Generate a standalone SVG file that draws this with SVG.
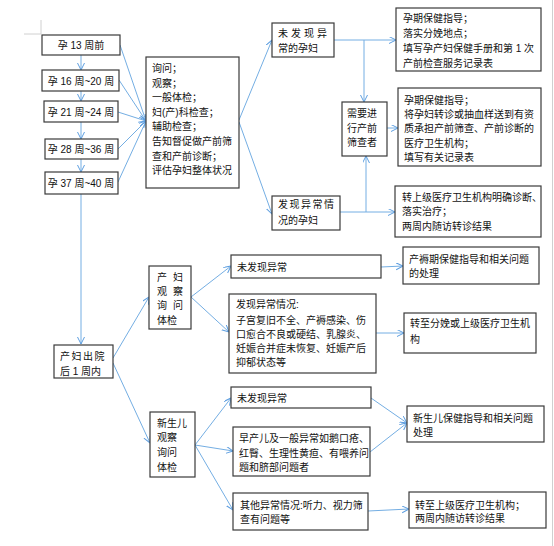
<svg xmlns="http://www.w3.org/2000/svg" width="554" height="546" viewBox="0 0 554 546">
<style>
.box{fill:#fff;stroke:#3a3a3a;stroke-width:1.2}
text{font-family:"Liberation Sans","Noto Sans CJK SC",sans-serif;font-size:10px;fill:#111}
.c{text-anchor:middle}
.ln{stroke:#74aee3;stroke-width:1;fill:none}
.mk{stroke:#74aee3;stroke-width:1;fill:none;marker-end:url(#ah)}
.gr{stroke:#d0d0d0;stroke-width:1}
</style>
<defs>
<marker id="ah" markerUnits="userSpaceOnUse" markerWidth="9" markerHeight="9" refX="7" refY="3.5" orient="auto">
<path d="M0,0 L7,3.5 L0,7" fill="none" stroke="#5d9ee0" stroke-width="1"/>
</marker>
</defs>
<rect width="554" height="546" fill="#fff"/>
<line class="gr" x1="41" y1="20" x2="41" y2="34"/>
<line class="gr" x1="24" y1="34" x2="41" y2="34"/>
<line class="gr" x1="552.5" y1="0" x2="552.5" y2="546"/>

<g id="connectors">
<line class="mk" x1="81" y1="55" x2="81" y2="70"/>
<line class="mk" x1="81" y1="91" x2="81" y2="101"/>
<line class="mk" x1="81" y1="122" x2="81" y2="139"/>
<line class="mk" x1="81" y1="159" x2="81" y2="172"/>
<line class="mk" x1="81" y1="194" x2="81" y2="344"/>
<line class="mk" x1="120" y1="45" x2="146" y2="121"/>
<line class="mk" x1="119" y1="80" x2="146" y2="121"/>
<line class="mk" x1="118" y1="112" x2="146" y2="121"/>
<line class="mk" x1="118" y1="149" x2="146" y2="121"/>
<line class="mk" x1="118" y1="182" x2="146" y2="121"/>
<line class="mk" x1="239" y1="120" x2="272" y2="40"/>
<line class="mk" x1="239" y1="122" x2="272" y2="214"/>
<line class="mk" x1="334" y1="40" x2="396" y2="40"/>
<line class="mk" x1="364" y1="40" x2="364" y2="102"/>
<line class="mk" x1="340" y1="212" x2="395" y2="212"/>
<line class="mk" x1="366" y1="212" x2="366" y2="156"/>
<line class="mk" x1="387" y1="128" x2="398" y2="128"/>
<line class="mk" x1="113" y1="358" x2="149" y2="297"/>
<line class="mk" x1="113" y1="363" x2="150" y2="443"/>
<line class="mk" x1="191" y1="297" x2="231" y2="266"/>
<line class="mk" x1="191" y1="297" x2="229" y2="332"/>
<line class="mk" x1="381" y1="267" x2="403" y2="266"/>
<line class="mk" x1="376" y1="333" x2="404" y2="333"/>
<line class="mk" x1="195" y1="445" x2="231" y2="398"/>
<line class="mk" x1="195" y1="445" x2="233" y2="451"/>
<line class="mk" x1="195" y1="445" x2="233" y2="510"/>
<line class="mk" x1="371" y1="398" x2="407" y2="423"/>
<line class="mk" x1="370" y1="452" x2="407" y2="423"/>
<line class="mk" x1="368" y1="511" x2="409" y2="509"/>
</g>

<g id="w13"><rect class="box" x="42" y="35" width="78" height="20"/><text class="c" x="81" y="49">孕 13 周前</text></g>
<g id="w16"><rect class="box" x="42" y="70" width="77" height="21"/><text class="c" x="81" y="84.5">孕 16 周~20 周</text></g>
<g id="w21"><rect class="box" x="44" y="101" width="74" height="21"/><text class="c" x="81" y="115.5">孕 21 周~24 周</text></g>
<g id="w28"><rect class="box" x="45" y="139" width="73" height="20"/><text class="c" x="81" y="153">孕 28 周~36 周</text></g>
<g id="w37"><rect class="box" x="45" y="172" width="73" height="22"/><text class="c" x="81" y="187">孕 37 周~40 周</text></g>

<g id="exam">
<rect class="box" x="146" y="57" width="93" height="131"/>
<text x="152" y="72">询问；</text>
<text x="152" y="86.5">观察；</text>
<text x="152" y="101">一般体检；</text>
<text x="152" y="115.5">妇(产)科检查；</text>
<text x="152" y="130">辅助检查；</text>
<text x="152" y="145">告知督促做产前筛</text>
<text x="152" y="159.5">查和产前诊断；</text>
<text x="152" y="174">评估孕妇整体状况</text>
</g>

<g id="normal">
<rect class="box" x="272" y="23" width="62" height="34"/>
<text x="278" y="37" letter-spacing="3">未发现异</text>
<text x="278" y="52">常的孕妇</text>
</g>
<g id="abnormal">
<rect class="box" x="272" y="196" width="68" height="34"/>
<text x="278" y="208" letter-spacing="1.5">发现异常情</text>
<text x="278" y="224">况的孕妇</text>
</g>
<g id="screen">
<rect class="box" x="342" y="102" width="45" height="54"/>
<text x="347" y="117">需要进</text>
<text x="347" y="132">行产前</text>
<text x="347" y="146">筛查者</text>
</g>
<g id="guide1">
<rect class="box" x="396" y="8" width="145" height="63"/>
<text x="403" y="22">孕期保健指导；</text>
<text x="403" y="37">落实分娩地点；</text>
<text x="403" y="52">填写孕产妇保健手册和第 1 次</text>
<text x="403" y="67">产前检查服务记录表</text>
</g>
<g id="guide2">
<rect class="box" x="398" y="88" width="143" height="78"/>
<text x="404" y="104">孕期保健指导；</text>
<text x="404" y="118">将孕妇转诊或抽血样送到有资</text>
<text x="404" y="132">质承担产前筛查、产前诊断的</text>
<text x="404" y="147">医疗卫生机构；</text>
<text x="404" y="161">填写有关记录表</text>
</g>
<g id="refer1">
<rect class="box" x="395" y="186" width="146" height="51"/>
<text x="402" y="201">转上级医疗卫生机构明确诊断、</text>
<text x="402" y="215">落实治疗；</text>
<text x="402" y="230">两周内随访转诊结果</text>
</g>

<g id="discharge">
<rect class="box" x="54" y="345" width="59" height="33"/>
<text x="60" y="360" letter-spacing="1.5">产妇出院</text>
<text x="60" y="375">后 1 周内</text>
</g>
<g id="mother">
<rect class="box" x="149" y="266" width="42" height="63"/>
<text x="157" y="281">产</text><text x="173" y="281">妇</text>
<text x="157" y="295">观</text><text x="173" y="295">察</text>
<text x="157" y="309">询</text><text x="173" y="309">问</text>
<text x="157" y="324">体检</text>
</g>
<g id="m_normal">
<rect class="box" x="231" y="255" width="150" height="23"/>
<text x="237" y="271">未发现异常</text>
</g>
<g id="m_abn">
<rect class="box" x="229" y="294" width="147" height="79"/>
<text x="236" y="308">发现异常情况:</text>
<text x="236" y="324">子宫复旧不全、产褥感染、伤</text>
<text x="236" y="338">口愈合不良或硬结、乳腺炎、</text>
<text x="236" y="352">妊娠合并症未恢复、妊娠产后</text>
<text x="236" y="366">抑郁状态等</text>
</g>
<g id="m_guide">
<rect class="box" x="403" y="247" width="136" height="37"/>
<text x="409" y="263">产褥期保健指导和相关问题</text>
<text x="409" y="277">的处理</text>
</g>
<g id="m_refer">
<rect class="box" x="404" y="313" width="132" height="40"/>
<text x="410" y="327">转至分娩或上级医疗卫生机</text>
<text x="410" y="343">构</text>
</g>

<g id="baby">
<rect class="box" x="150" y="412" width="45" height="65"/>
<text x="157" y="427">新生儿</text>
<text x="157" y="441">观察</text>
<text x="157" y="456">询问</text>
<text x="157" y="471">体检</text>
</g>
<g id="b_normal">
<rect class="box" x="231" y="387" width="140" height="21"/>
<text x="237" y="402">未发现异常</text>
</g>
<g id="b_minor">
<rect class="box" x="233" y="427" width="137" height="49"/>
<text x="239" y="442">早产儿及一般异常如鹅口疮、</text>
<text x="239" y="457">红臀、生理性黄疸、有喂养问</text>
<text x="239" y="471">题和脐部问题者</text>
</g>
<g id="b_other">
<rect class="box" x="233" y="493" width="135" height="37"/>
<text x="240" y="509">其他异常情况:听力、视力筛</text>
<text x="240" y="523">查有问题等</text>
</g>
<g id="b_guide">
<rect class="box" x="407" y="406" width="137" height="36"/>
<text x="413" y="422">新生儿保健指导和相关问题</text>
<text x="413" y="436">处理</text>
</g>
<g id="b_refer">
<rect class="box" x="409" y="492" width="137" height="36"/>
<text x="415" y="509">转至上级医疗卫生机构；</text>
<text x="415" y="522">两周内随访转诊结果</text>
</g>
</svg>
